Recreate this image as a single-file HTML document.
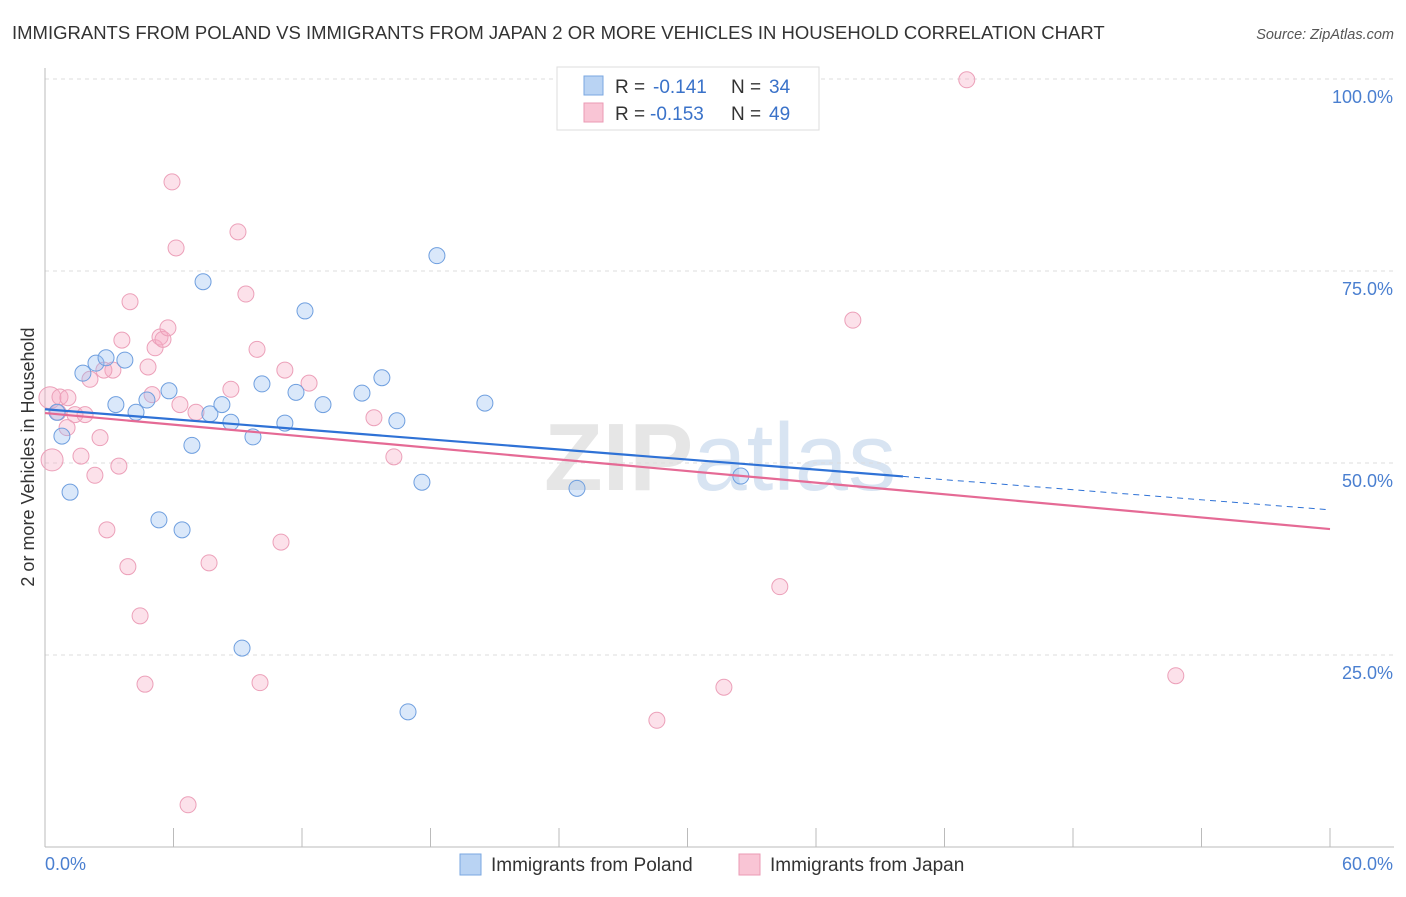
<!DOCTYPE html>
<html><head><meta charset="utf-8"><style>
body{margin:0;background:#fff;font-family:"Liberation Sans",sans-serif}
svg text{font-family:"Liberation Sans",sans-serif}
</style></head><body>
<svg id="c" width="1406" height="892">
<text x="12" y="39" font-size="18.5" fill="#333">IMMIGRANTS FROM POLAND VS IMMIGRANTS FROM JAPAN 2 OR MORE VEHICLES IN HOUSEHOLD CORRELATION CHART</text>
<text x="1394" y="39" font-size="14.5" fill="#555" font-style="italic" text-anchor="end">Source: ZipAtlas.com</text>
<text x="720" y="490" font-size="96" fill="#e6e6e6" text-anchor="middle" font-weight="bold" font-family="Liberation Serif">ZIP<tspan fill="#d8e4f2" font-weight="normal" font-family="Liberation Sans">atlas</tspan></text>
<g id="grid"></g><g id="axes"></g><g id="pts"></g><g id="trend"></g>
<text transform="translate(34,457) rotate(-90)" font-size="18" fill="#333" text-anchor="middle">2 or more Vehicles in Household</text>
<g>
<rect x="557" y="67" width="262" height="63" fill="#fff" stroke="#ddd"/>
<rect x="584" y="76" width="19" height="19" fill="#b9d3f3" stroke="#7aa7e0"/>
<rect x="584" y="103" width="19" height="19" fill="#f9c5d5" stroke="#eb9ab4"/>
<text x="615" y="93" font-size="19" fill="#333">R =</text>
<text x="653" y="93" font-size="19" fill="#3a72c9">-0.141</text>
<text x="731" y="93" font-size="19" fill="#333">N =</text>
<text x="769" y="93" font-size="19" fill="#3a72c9">34</text>
<text x="615" y="120" font-size="19" fill="#333">R =</text>
<text x="650" y="120" font-size="19" fill="#3a72c9">-0.153</text>
<text x="731" y="120" font-size="19" fill="#333">N =</text>
<text x="769" y="120" font-size="19" fill="#3a72c9">49</text>
</g>
<g>
<rect x="460" y="854" width="21" height="21" fill="#b9d3f3" stroke="#7aa7e0"/>
<text x="491" y="871" font-size="19" fill="#333">Immigrants from Poland</text>
<rect x="739" y="854" width="21" height="21" fill="#f9c5d5" stroke="#eb9ab4"/>
<text x="770" y="871" font-size="19" fill="#333">Immigrants from Japan</text>
</g>
</svg>
<script>
const polandX=[0.56,0.79,1.17,1.77,2.38,2.85,3.31,3.73,4.25,4.76,5.32,5.79,6.40,6.86,7.38,7.70,8.26,8.68,9.71,10.13,11.20,11.72,12.14,12.98,9.20,14.80,15.73,16.43,16.95,17.60,18.30,20.54,24.84,32.49];
const polandY=[56.6,53.5,46.2,61.7,63.0,63.7,57.6,63.4,56.6,58.2,42.6,59.4,41.3,52.3,73.6,56.4,57.6,55.3,53.4,60.3,55.2,59.2,69.8,57.6,25.9,59.1,61.1,55.5,17.6,47.5,77.0,57.8,46.7,48.3];
const japanX=[0.23,0.33,0.70,1.07,1.03,1.40,1.87,1.68,2.10,2.33,2.57,2.89,3.17,3.45,3.59,3.87,3.97,4.44,4.67,4.81,5.00,5.14,5.37,5.51,5.74,5.93,6.12,6.30,6.68,7.05,7.66,8.68,9.01,9.38,9.90,10.04,11.02,11.20,12.33,15.36,16.29,28.57,31.70,34.31,37.72,43.04,52.80,0.61,2.75];
const japanY=[58.5,50.4,58.6,58.5,54.6,56.3,56.3,50.9,60.9,48.4,53.3,41.3,62.1,49.6,66.0,36.5,71.0,30.1,21.2,62.5,58.9,65.0,66.4,66.1,67.6,86.6,78.0,57.6,5.5,56.6,37.0,59.6,80.1,72.0,64.8,21.4,39.7,62.1,60.4,55.9,50.8,16.5,20.8,33.9,68.6,99.9,22.3,56.6,62.1];
const yTicks=[25,50,75,100];
const yTickLabels=["25.0%","50.0%","75.0%","100.0%"];
const xTickLabels=["0.0%","60.0%"];
const trendPoland=[57.0,43.9,40.06];
const trendJapan=[56.5,41.4];
const NS='http://www.w3.org/2000/svg';
const sx=v=>45+v*1285/60, sy=v=>847-v*7.68;
function mk(tag,attrs,parent){const e=document.createElementNS(NS,tag);for(const k in attrs)e.setAttribute(k,attrs[k]);document.getElementById(parent).appendChild(e);return e;}
yTicks.forEach((t,i)=>{
 const l=mk('line',{x1:45,x2:1394,y1:sy(t),y2:sy(t),stroke:'#ddd','stroke-dasharray':'4,4'},'grid');
 
 
 const tx=mk('text',{x:1393,y:sy(t)+24,'font-size':18,fill:'#4a7fd0','text-anchor':'end'},'grid');
 tx.textContent=yTickLabels[i];
 
 
});
const ax=mk('line',{x1:45,x2:45,y1:68,y2:847,stroke:'#bbb'},'axes');


const bx=mk('line',{x1:45,x2:1394,y1:847,y2:847,stroke:'#bbb'},'axes');


for(let i=0;i<=10;i++){const t=mk('line',{x1:sx(i*6),x2:sx(i*6),y1:828,y2:847,stroke:'#bbb'},'axes');
 
 }
[[0,'start',45],[60,'end',1393]].forEach((a,i)=>{const t=mk('text',{x:a[2],y:870,'font-size':18,fill:'#4a7fd0','text-anchor':a[1]},'axes');t.textContent=xTickLabels[i];
 
 });
japanX.forEach((x,i)=>{const c=mk('circle',{cx:sx(x),cy:sy(japanY[i]),r:(i<2?11:8),fill:'rgba(245,170,195,0.35)',stroke:'#eca0b9','stroke-width':1},'pts');
 
 });
polandX.forEach((x,i)=>{const c=mk('circle',{cx:sx(x),cy:sy(polandY[i]),r:8,fill:'rgba(150,190,240,0.35)',stroke:'#6f9fdf','stroke-width':1},'pts');
 
 });
const pb=v=>trendPoland[0]+(trendPoland[1]-trendPoland[0])*v/60;
const l1=mk('line',{x1:sx(0),y1:sy(pb(0)),x2:sx(trendPoland[2]),y2:sy(pb(trendPoland[2])),stroke:'#2f72d6','stroke-width':2.2},'trend');


const l2=mk('line',{x1:sx(trendPoland[2]),y1:sy(pb(trendPoland[2])),x2:sx(60),y2:sy(pb(60)),stroke:'#2f72d6','stroke-width':1,'stroke-dasharray':'6,5'},'trend');


const l3=mk('line',{x1:sx(0),y1:sy(trendJapan[0]),x2:sx(60),y2:sy(trendJapan[1]),stroke:'#e56a95','stroke-width':2.2},'trend');


</script>
</body></html>
